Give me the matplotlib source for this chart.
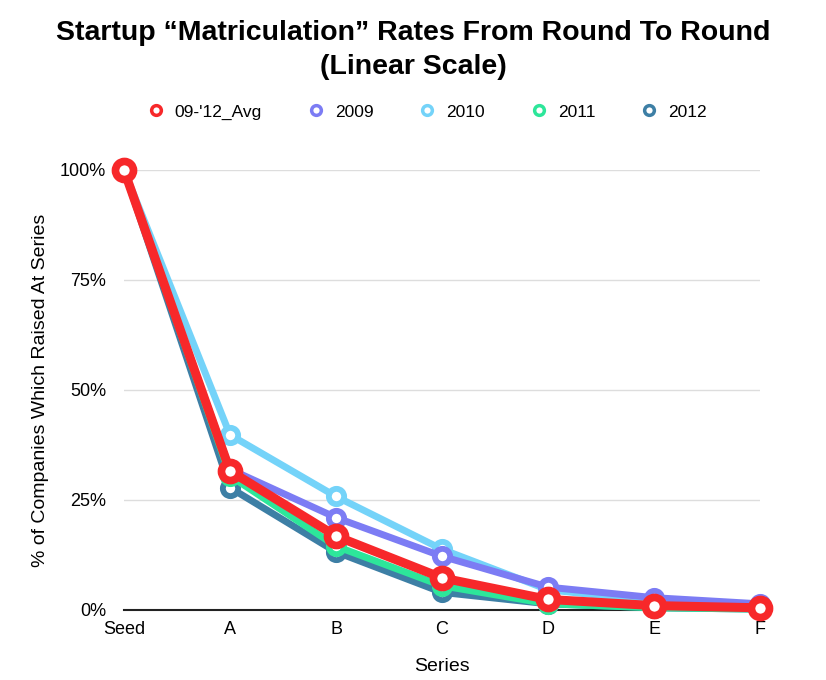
import matplotlib
matplotlib.use("Agg")
import matplotlib.pyplot as plt
from matplotlib.lines import Line2D
from matplotlib.ticker import FuncFormatter

categories = ["Seed", "A", "B", "C", "D", "E", "F"]
series_names = ["09-'12_Avg", "2009", "2010", "2011", "2012"]
avg = [1.00, 0.316, 0.168, 0.073, 0.024, 0.010, 0.005]
y2009 = [1.00, 0.320, 0.210, 0.122, 0.052, 0.028, 0.014]
y2010 = [1.00, 0.398, 0.258, 0.138, 0.046, 0.020, 0.008]
y2011 = [1.00, 0.305, 0.145, 0.055, 0.014, 0.005, 0.002]
y2012 = [1.00, 0.278, 0.132, 0.040, 0.014, 0.005, 0.002]
colors = ["#f7282a", "#7c7cf4", "#74d3f9", "#2de69a", "#3d7fa5"]

plt.rcParams['font.family'] = ['Liberation Sans', 'DejaVu Sans']

fig = plt.figure(figsize=(8.26, 6.8), dpi=100)
ax = fig.add_axes([124/826, 70/680, (760-124)/826, 440/680])

data = [avg, y2009, y2010, y2011, y2012]
x = list(range(len(categories)))
# draw order: 2012 bottom ... avg on top
for i in [4, 3, 2, 1, 0]:
    if i == 0:
        lw, ms, mew = 6.5, 13, 5.5
    else:
        lw, ms, mew = 5, 11, 4.2
    ax.plot(x, data[i], color=colors[i], lw=lw, marker='o', ms=ms,
            markerfacecolor='white', markeredgecolor=colors[i], mew=mew,
            clip_on=False, zorder=3 + (4 - i), solid_joinstyle='round')

ax.set_xlim(0, 6)
ax.set_ylim(0, 1.0)
ax.set_xticks(x)
ax.set_xticklabels(categories, fontsize=13)
ax.set_yticks([0, 0.25, 0.5, 0.75, 1.0])
ax.yaxis.set_major_formatter(FuncFormatter(lambda v, p: f"{int(round(v*100))}%"))
ax.tick_params(axis='y', labelsize=13, length=0, pad=13)
ax.tick_params(axis='x', length=0, pad=8)
ax.grid(axis='y', color='#dddddd', lw=1)
ax.set_axisbelow(True)
for s in ['top', 'right', 'left']:
    ax.spines[s].set_visible(False)
ax.spines['bottom'].set_color('#222222')
ax.spines['bottom'].set_linewidth(1.5)
ax.spines['bottom'].set_zorder(2)

ax.set_xlabel("Series", fontsize=14, labelpad=14)
ax.set_ylabel("% of Companies Which Raised At Series", fontsize=14, labelpad=8)

fig.suptitle("Startup \u201cMatriculation\u201d Rates From Round To Round\n(Linear Scale)",
             fontsize=20.5, fontweight='bold', y=0.971, linespacing=1.42)

handles = [Line2D([], [], ls='none', marker='o', ms=7, markerfacecolor='white',
                  markeredgecolor=c, mew=2.5) for c in colors]
fig.legend(handles, series_names, loc='center', bbox_to_anchor=(0.517, 1 - 112/680),
           ncol=5, frameon=False, fontsize=12.5, handlelength=1.0,
           handletextpad=0.6, columnspacing=2.6)

fig.savefig("out.png", dpi=100)
